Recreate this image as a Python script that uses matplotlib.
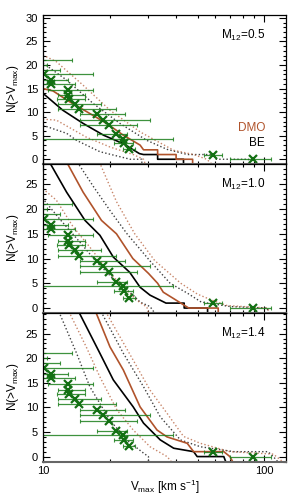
import matplotlib
matplotlib.use('Agg')
import matplotlib.pyplot as plt
from matplotlib.ticker import MultipleLocator, FixedLocator, NullFormatter

plt.rcParams['font.family'] = ['Liberation Sans', 'DejaVu Sans']
plt.rcParams['mathtext.fontset'] = 'custom'
plt.rcParams['mathtext.rm'] = 'Liberation Sans'
plt.rcParams['mathtext.it'] = 'Liberation Sans:italic'

brown = '#b0532b'
green = '#1c7f1c'

# observed satellites: Vmax, N, error bar ends
obs_v = [8.0, 8.6, 9.2, 10.07, 10.9, 10.9, 13.0, 13.0, 13.1, 13.9, 14.5, 17.6, 18.7, 19.9, 21.3, 23.1, 23.3, 24.6, 58.6, 89.0]
obs_n = [21.0, 20.0, 19.0, 18.0, 16.8, 16.0, 14.7, 13.6, 12.8, 11.7, 10.6, 9.5, 8.4, 7.2, 5.3, 4.4, 3.4, 2.1, 1.0, 0.0]
obs_lo = [6.0, 6.5, 7.0, 8.0, 9.5, 9.0, 10.5, 11.7, 11.6, 11.7, 11.7, 14.7, 14.7, 14.7, 17.5, 8.0, 21.0, 23.0, 53.3, 70.3]
obs_hi = [13.55, 10.4, 12.0, 16.9, 13.0, 13.9, 16.9, 15.5, 15.5, 18.4, 21.3, 23.5, 30.5, 26.5, 24.1, 38.9, 25.5, 26.0, 64.6, 107.0]

# M12 = 0.5
be_v_05 = [10, 12.3, 15.2, 18.8, 23.1, 27.3, 28.5, 33, 33, 43.2, 43.2]
be_n_05 = [14, 10.4, 7.6, 5.1, 3.3, 1.2, 1, 1, 0, 0, -1]
dmo_v_05 = [10, 11.1, 13.2, 16.3, 19.4, 23.1, 27.5, 28.5, 33, 33, 40, 40, 47.5, 47.5]
dmo_n_05 = [15, 14.5, 12.2, 9.7, 7.6, 5.1, 3.0, 2, 2, 1, 1, 0, 0, -1]
be_hi_v_05 = [10, 12.8, 16.9, 22.3, 29.5, 36.4, 45, 60, 60, 85, 85]
be_hi_n_05 = [20.4, 16.8, 11.8, 7.6, 4.0, 2.1, 1, 1, 0, 0, -1]
be_lo_v_05 = [10, 12.8, 14.2, 18.1, 24.8, 28, 28]
be_lo_n_05 = [7.2, 5.5, 4.0, 1.6, 0, 0, -1]
dmo_hi_v_05 = [10, 11.5, 15.2, 20.1, 27.5, 39, 48, 55, 58]
dmo_hi_n_05 = [22.1, 20.7, 15.7, 10.4, 5.8, 1.9, 1, 0, -1]
dmo_lo_v_05 = [10, 11.5, 15.7, 20.1, 25.6, 28.5, 29]
dmo_lo_n_05 = [8.5, 8.3, 4.7, 2.6, 1.0, 0, -1]

# M12 = 1.0
be_v_10 = [10.7, 12.8, 15.5, 18.1, 20.8, 24.7, 27.5, 30.5, 36, 43.5, 43.5, 55.5, 55.5]
be_n_10 = [29.5, 23.4, 17.7, 14.7, 10.3, 7.2, 4.2, 2.6, 1, 1, 0, 0, -1]
dmo_v_10 = [12.8, 15.2, 18.4, 21.5, 25.5, 30, 33, 35, 39, 45.6, 62, 62]
dmo_n_10 = [29.5, 23.4, 17.7, 15, 10, 7, 5, 3.2, 1.9, 0, 0, -1]
be_hi_v_10 = [14.3, 17, 20.1, 24, 30.5, 37.6, 45, 52, 70.4, 103, 105]
be_hi_n_10 = [29.5, 24.4, 19.7, 15, 9.5, 5, 3, 1.2, 0.3, 0, -1]
be_lo_v_10 = [9.5, 10, 11.9, 14.7, 17.5, 20.8, 25.6, 27.5, 30.5, 32]
be_lo_n_10 = [29.5, 22.1, 18.0, 13.3, 9.3, 5.9, 2.6, 1.2, 0.3, -1]
dmo_hi_v_10 = [18, 21.5, 26, 32, 42, 50, 58, 68, 104, 105]
dmo_hi_n_10 = [29.5, 21.5, 15, 9.6, 5, 2.8, 1.6, 0.5, 0, -1]
dmo_lo_v_10 = [10, 11.5, 13.7, 16.3, 20.1, 23.9, 26.5, 29.5, 30]
dmo_lo_n_10 = [24.1, 21.8, 16.4, 12.3, 7.0, 3.6, 1.6, 0.2, -1]

# M12 = 1.4
be_v_14 = [14.5, 18.1, 20.8, 25.6, 28.5, 33.9, 39, 48, 49.8, 65.7, 67]
be_n_14 = [29.5, 21, 15.6, 10.1, 6.8, 3.4, 1.7, 1, 0, 0, -1]
dmo_v_14 = [17.3, 20.1, 23.1, 27.5, 32.8, 36.4, 44.9, 48, 65.7, 70, 72]
dmo_n_14 = [29.5, 22.3, 17.6, 10.1, 5.4, 4, 2.7, 1, 1, 0, -1]
be_hi_v_14 = [18.3, 23.1, 28.5, 33.9, 41.8, 51.5, 73, 104, 110, 115]
be_hi_n_14 = [29.5, 21, 14.2, 8.1, 3.4, 2, 1, 1, 0, -1]
be_lo_v_14 = [11.8, 14.2, 16.3, 20.1, 23.9, 28.5, 30, 30]
be_lo_n_14 = [29.5, 21, 14.2, 7.4, 3.4, 0.7, 0, -1]
dmo_hi_v_14 = [19.2, 25.6, 30.5, 36.4, 43.2, 51.5, 70, 110, 121]
dmo_hi_n_14 = [29.5, 19.6, 13.5, 8.8, 4.1, 2.7, 1, 0.5, -1]
dmo_lo_v_14 = [13.1, 15.7, 18.1, 21.6, 25.6, 30.5, 36.4, 38]
dmo_lo_n_14 = [29.5, 22.3, 16.2, 9.5, 5.4, 2, 0, -1]

panels = [
    ('0.5', (-0.9, 30.7), be_v_05, be_n_05, dmo_v_05, dmo_n_05, be_hi_v_05, be_hi_n_05,
     be_lo_v_05, be_lo_n_05, dmo_hi_v_05, dmo_hi_n_05, dmo_lo_v_05, dmo_lo_n_05),
    ('1.0', (-0.9, 29.2), be_v_10, be_n_10, dmo_v_10, dmo_n_10, be_hi_v_10, be_hi_n_10,
     be_lo_v_10, be_lo_n_10, dmo_hi_v_10, dmo_hi_n_10, dmo_lo_v_10, dmo_lo_n_10),
    ('1.4', (-1.0, 29.3), be_v_14, be_n_14, dmo_v_14, dmo_n_14, be_hi_v_14, be_hi_n_14,
     be_lo_v_14, be_lo_n_14, dmo_hi_v_14, dmo_hi_n_14, dmo_lo_v_14, dmo_lo_n_14),
]

fig = plt.figure(figsize=(3, 5), dpi=100)
left, width, bottom, h = 0.143, 0.809, 0.077, 0.298
dot = (0, (1, 1.6))

for i, p in enumerate(panels):
    m12, ylim = p[0], p[1]
    ax = fig.add_axes([left, bottom + (2 - i) * h, width, h])
    ax.set_xscale('log')
    ax.plot(p[6], p[7], color='0.25', ls=dot, lw=1.0)
    ax.plot(p[8], p[9], color='0.25', ls=dot, lw=1.0)
    ax.plot(p[10], p[11], color=brown, ls=dot, lw=1.0, alpha=0.7)
    ax.plot(p[12], p[13], color=brown, ls=dot, lw=1.0, alpha=0.7)
    ax.plot(p[2], p[3], color='k', lw=1.2)
    ax.plot(p[4], p[5], color=brown, lw=1.2)
    xerr = [[v - lo for v, lo in zip(obs_v, obs_lo)], [hi - v for v, hi in zip(obs_v, obs_hi)]]
    ax.errorbar(obs_v, obs_n, xerr=xerr, fmt='none', ecolor=green, elinewidth=0.9,
                capsize=1.5, capthick=0.8, alpha=0.85)
    ax.plot(obs_v, obs_n, 'x', color='#137013', ms=6, mew=1.6)

    ax.set_xlim(10, 125)
    ax.set_ylim(*ylim)
    ax.xaxis.set_major_locator(FixedLocator([10, 100]))
    ax.xaxis.set_minor_locator(FixedLocator([20, 30, 40, 50, 60, 70, 80, 90]))
    ax.xaxis.set_minor_formatter(NullFormatter())
    ax.yaxis.set_major_locator(MultipleLocator(5))
    ax.yaxis.set_minor_locator(MultipleLocator(1))
    ax.tick_params(which='both', direction='in', top=True, right=True, width=0.8, labelsize=8)
    ax.tick_params(which='major', length=5)
    ax.tick_params(which='minor', length=2.5)
    for s in ax.spines.values():
        s.set_linewidth(0.9)
    ax.spines['bottom'].set_color('0.4')
    ax.spines['bottom'].set_linewidth(1.5)
    if i < 2:
        ax.set_xticklabels([])
    else:
        ax.set_xticklabels(['10', '100'])
        ax.set_xlabel(r'V$_{\rm max}$ [km s$^{-1}$]', fontsize=8.5, labelpad=1)
    ax.set_ylabel(r'N(>V$_{\rm max}$)', fontsize=8.5, labelpad=3)
    ax.text(0.915, 0.86, r'M$_{12}$=' + m12, transform=ax.transAxes, ha='right', va='center', fontsize=8.5)
    if i == 0:
        ax.text(0.915, 0.235, 'DMO', color=brown, transform=ax.transAxes, ha='right', va='center', fontsize=8.5)
        ax.text(0.915, 0.14, 'BE', color='k', transform=ax.transAxes, ha='right', va='center', fontsize=8.5)

fig.savefig('out.png', dpi=100)
